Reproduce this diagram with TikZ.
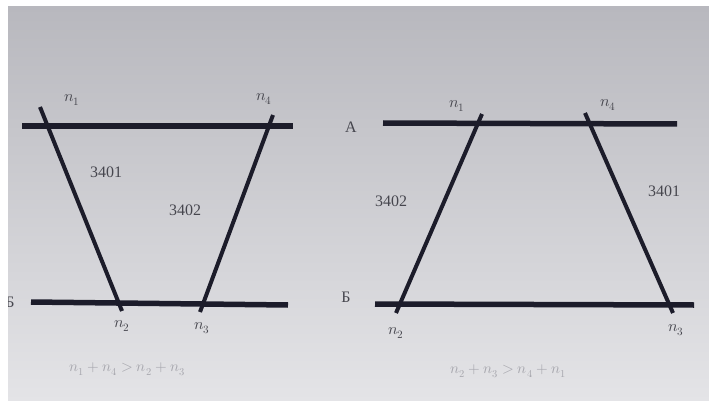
\documentclass[tikz,border=0pt]{standalone}
\usepackage{fontspec}
\setmainfont{Liberation Serif}
\usepackage{unicode-math}
\setmathfont{Latin Modern Math}
\begin{document}
\begin{tikzpicture}[x=1pt,y=-1pt,
  hline/.style={line width=5.5pt,draw=lineink},
  sline/.style={line width=4pt,draw=lineink},
  lbl/.style={font=\fontsize{16}{16}\selectfont,text=textink,inner sep=0pt},
  nlbl/.style={font=\fontsize{16}{16}\selectfont,text=textink,inner sep=0pt},
  frm/.style={font=\fontsize{15}{15}\selectfont,text=faint,inner sep=0pt}]
\definecolor{lineink}{RGB}{28,28,42}
\definecolor{textink}{RGB}{70,70,78}
\definecolor{faint}{RGB}{165,165,172}
\definecolor{bgtop}{RGB}{184,184,190}
\definecolor{bgbot}{RGB}{228,228,231}
\useasboundingbox (0,0) rectangle (709,401);
\fill[white] (0,0) rectangle (709,401);
\shade[top color=bgtop,bottom color=bgbot] (8,7) rectangle (709,401);
% left diagram
\coordinate (LA1) at (22,126);
\coordinate (LA2) at (293,126);
\coordinate (LB1) at (31,302);
\coordinate (LB2) at (288,305);
\coordinate (Ln1t) at (40,107);
\coordinate (Ln2b) at (122,311);
\coordinate (Ln4t) at (273,115);
\coordinate (Ln3b) at (200,312);
\draw[hline] (LA1) -- (LA2);
\draw[hline] (LB1) -- (LB2);
\draw[sline] (Ln1t) -- (Ln2b);
\draw[sline] (Ln4t) -- (Ln3b);
\node[nlbl] (l1) at (72,100) {$n_1$};
\node[nlbl] (l4) at (264,99) {$n_4$};
\node[nlbl] (l2) at (122,326) {$n_2$};
\node[nlbl] (l3) at (202,328) {$n_3$};
\begin{scope}
\clip (8,7) rectangle (709,401);
\node[lbl] (lB) at (10,302) {Б};
\end{scope}
\node[lbl] (l3401) at (106,172) {3401};
\node[lbl] (l3402) at (185,210) {3402};
\node[frm] (lf) at (127,369) {$n_1+n_4>n_2+n_3$};
% right diagram
\coordinate (RA1) at (383,123);
\coordinate (RA2) at (677,124);
\coordinate (RB1) at (375,304);
\coordinate (RB2) at (694,305);
\coordinate (Rn1t) at (482,114);
\coordinate (Rn2b) at (396,313);
\coordinate (Rn4t) at (585,113);
\coordinate (Rn3b) at (673,313);
\draw[hline] (RA1) -- (RA2);
\draw[hline] (RB1) -- (RB2);
\draw[sline] (Rn1t) -- (Rn2b);
\draw[sline] (Rn4t) -- (Rn3b);
\node[lbl] (rA) at (351,127) {А};
\node[lbl] (rB) at (346,297) {Б};
\node[nlbl] (r1) at (457,106) {$n_1$};
\node[nlbl] (r4) at (608,105) {$n_4$};
\node[nlbl] (r2) at (396,333) {$n_2$};
\node[nlbl] (r3) at (676,330) {$n_3$};
\node[lbl] (r3402) at (391,201) {3402};
\node[lbl] (r3401) at (664,191) {3401};
\node[frm] (rf) at (508,371) {$n_2+n_3>n_4+n_1$};
\end{tikzpicture}
\end{document}
